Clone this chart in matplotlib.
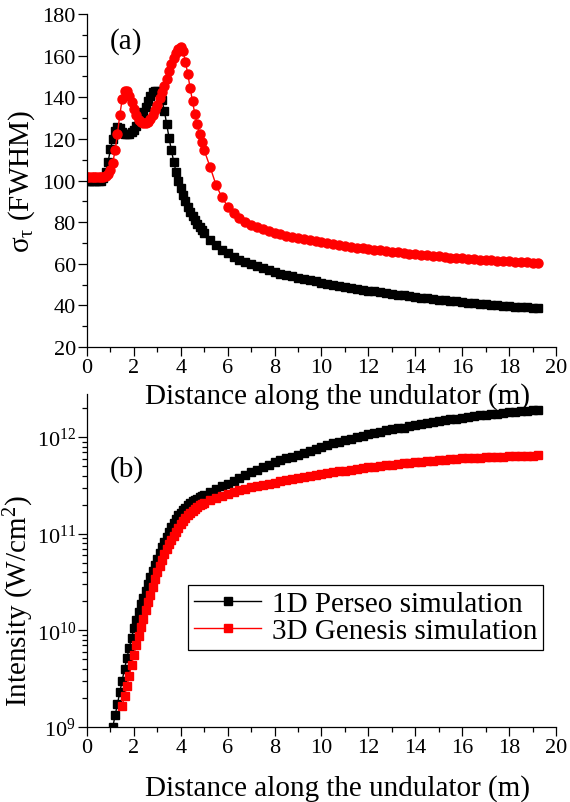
import numpy as np
import matplotlib
matplotlib.use('Agg')
import matplotlib.pyplot as plt
from matplotlib.ticker import MultipleLocator, LogLocator, NullFormatter

plt.rcParams['font.family'] = ['Liberation Serif', 'DejaVu Serif']
plt.rcParams['mathtext.fontset'] = 'custom'
plt.rcParams['mathtext.rm'] = 'Liberation Serif'
plt.rcParams['mathtext.it'] = 'Liberation Serif:italic'

# sampling positions along the undulator (m): 0.1 m steps early, 0.25 m later
z_fine = np.round(np.arange(0.0, 5.01, 0.1), 2)
z_tail = np.round(np.arange(5.25, 19.26, 0.25), 2)

# (a) pulse duration sigma_tau FWHM
sigma_1d_fine = [100, 100, 100, 100, 100, 100, 100, 101, 104, 109,
                 115, 120, 124, 125.5, 125, 123.5, 122.5, 122.3, 122.5, 123.3,
                 124.5, 126, 128, 130.5, 133, 135.5, 138, 140.5, 142.3, 143,
                 143, 142, 138.5, 133.5, 127, 120.5, 114.5, 109, 104, 100,
                 96.5, 93, 90, 87.3, 85, 83, 81, 79.2, 77.5, 76,
                 74.6]
sigma_1d_tail = [71.5, 69, 66.8, 65, 63.4, 62, 60.8, 59.7, 58.7, 57.8,
                 56.9, 56.1, 55.3, 54.6, 53.9, 53.3, 52.7, 52.1, 51.5, 51.0,
                 50.4, 49.9, 49.4, 48.9, 48.4, 47.9, 47.5, 47.1, 46.7, 46.3,
                 45.9, 45.5, 45.1, 44.8, 44.4, 44.1, 43.7, 43.4, 43.1, 42.8,
                 42.5, 42.2, 41.9, 41.6, 41.3, 41.0, 40.8, 40.5, 40.3, 40.0,
                 39.8, 39.6, 39.4, 39.2, 39.0, 38.8, 38.6]

sigma_3d_fine = [101.5, 101.5, 101.5, 101.5, 101.5, 101.5, 101.5, 101.8, 102.3, 103,
                 105, 108.5, 114.5, 122.5, 131.5, 139, 143, 143, 140.5, 137.5,
                 134.5, 131.5, 129.3, 128, 127.4, 127.5, 128.3, 129.5, 131.5, 134,
                 136.5, 139.5, 142.5, 145.5, 149, 152.5, 156, 159, 161.5, 163.3,
                 164, 162, 157, 151, 144.5, 138, 132, 127, 122.5, 118.5,
                 114.5]
sigma_3d_tail = [106.5, 98, 92, 87.5, 84.5, 82, 80.2, 78.8, 77.6, 76.6,
                 75.7, 74.9, 74.2, 73.5, 72.9, 72.3, 71.8, 71.3, 70.8, 70.3,
                 69.8, 69.3, 68.9, 68.5, 68.1, 67.7, 67.4, 67.0, 66.7, 66.4,
                 66.1, 65.8, 65.5, 65.2, 64.9, 64.6, 64.3, 64.0, 63.8, 63.5,
                 63.3, 63.0, 62.8, 62.6, 62.4, 62.2, 62.0, 61.8, 61.7, 61.5,
                 61.3, 61.2, 61.0, 60.9, 60.7, 60.6, 60.4]

# (b) intensity, log10 of W/cm^2
z_1d_rise = np.round(np.arange(1.1, 5.01, 0.1), 2)
logI_1d_rise = [9.00, 9.12, 9.24, 9.36, 9.48, 9.60, 9.71, 9.82, 9.92,
                10.02, 10.11, 10.19, 10.27, 10.34, 10.41, 10.48, 10.55, 10.62, 10.68,
                10.74, 10.80, 10.86, 10.92, 10.97, 11.02, 11.07, 11.11, 11.15, 11.19,
                11.22, 11.25, 11.27, 11.30, 11.32, 11.34, 11.35, 11.36, 11.38, 11.39,
                11.40]
logI_1d_tail = [11.43, 11.46, 11.49, 11.52, 11.55, 11.58, 11.61, 11.64, 11.66, 11.69,
                11.71, 11.74, 11.76, 11.78, 11.80, 11.82, 11.84, 11.86, 11.88, 11.90,
                11.92, 11.94, 11.955, 11.97, 11.985, 12.00, 12.015, 12.03, 12.04, 12.055,
                12.07, 12.08, 12.09, 12.10, 12.115, 12.125, 12.135, 12.145, 12.155, 12.165,
                12.175, 12.185, 12.19, 12.20, 12.21, 12.215, 12.225, 12.23, 12.24, 12.245,
                12.25, 12.26, 12.265, 12.27, 12.275, 12.28, 12.285]

z_3d_rise = np.round(np.arange(1.5, 5.01, 0.1), 2)
logI_3d_rise = [9.22, 9.32, 9.42, 9.53, 9.64,
                9.75, 9.85, 9.94, 10.03, 10.12, 10.21, 10.29, 10.37, 10.45, 10.53,
                10.60, 10.67, 10.73, 10.79, 10.84, 10.89, 10.94, 10.98, 11.02, 11.06,
                11.10, 11.13, 11.16, 11.19, 11.22, 11.24, 11.26, 11.28, 11.30, 11.31,
                11.32]
logI_3d_tail = [11.35, 11.37, 11.39, 11.41, 11.43, 11.45, 11.46, 11.48, 11.49, 11.51,
                11.52, 11.53, 11.545, 11.555, 11.565, 11.575, 11.585, 11.595, 11.605, 11.615,
                11.625, 11.635, 11.645, 11.655, 11.66, 11.67, 11.68, 11.69, 11.695, 11.70,
                11.71, 11.715, 11.72, 11.73, 11.735, 11.74, 11.745, 11.75, 11.755, 11.76,
                11.765, 11.77, 11.775, 11.78, 11.783, 11.786, 11.789, 11.792, 11.795, 11.798,
                11.80, 11.802, 11.804, 11.806, 11.808, 11.81, 11.812]

z_a = np.concatenate([z_fine, z_tail])
z_1d = np.concatenate([z_1d_rise, z_tail])
z_3d = np.concatenate([z_3d_rise, z_tail])
sigma_1d = np.array(sigma_1d_fine + sigma_1d_tail)
sigma_3d = np.array(sigma_3d_fine + sigma_3d_tail)
I_1d = 10.0 ** np.array(logI_1d_rise + logI_1d_tail)
I_3d = 10.0 ** np.array(logI_3d_rise + logI_3d_tail)

fig = plt.figure(figsize=(5.7, 8.03), dpi=100)
ax1 = fig.add_axes([0.1526, 0.5666, 0.8228, 0.4147])
ax2 = fig.add_axes([0.1526, 0.0934, 0.8228, 0.4147])
ax2.patch.set_visible(False)

ax1.plot(z_a, sigma_1d, color='black', lw=1, marker='s', ms=6, mec='black', mfc='black')
ax1.plot(z_a, sigma_3d, color='red', lw=1, marker='o', ms=6.5, mec='red', mfc='red')

ax2.plot(z_1d, I_1d, color='black', lw=1, marker='s', ms=6, mec='black', mfc='black',
         label='1D Perseo simulation')
ax2.plot(z_3d, I_3d, color='red', lw=1, marker='s', ms=6, mec='red', mfc='red',
         label='3D Genesis simulation')
ax2.set_yscale('log')

ax1.set_xlim(0, 20)
ax1.set_ylim(20, 180)
ax1.yaxis.set_major_locator(MultipleLocator(20))
ax1.yaxis.set_minor_locator(MultipleLocator(10))

ax2.set_xlim(0, 20)
ax2.set_ylim(1e9, 2.8e12)
ax2.yaxis.set_major_locator(LogLocator(base=10, numticks=10))
ax2.yaxis.set_minor_locator(LogLocator(base=10, subs=np.arange(2, 10), numticks=10))
ax2.yaxis.set_minor_formatter(NullFormatter())

for ax in (ax1, ax2):
    ax.xaxis.set_major_locator(MultipleLocator(2))
    ax.xaxis.set_minor_locator(MultipleLocator(1))
    ax.spines['top'].set_visible(False)
    ax.spines['right'].set_visible(False)
    for s in ('left', 'bottom'):
        ax.spines[s].set_linewidth(0.9)
    ax.tick_params(which='major', direction='out', length=6.5, width=0.9,
                   labelsize=16, pad=1.5)
    ax.tick_params(which='minor', direction='out', length=3.5, width=0.9)
    ax.set_xlabel('Distance along the undulator (m)', fontsize=21)

ax1.xaxis.set_label_coords(0.534, -0.105)
ax2.xaxis.set_label_coords(0.534, -0.141)

ax1.set_ylabel(r'$\mathregular{σ_τ}$ (FWHM)', fontsize=21)
ax2.set_ylabel(r'Intensity (W/cm$^{\mathregular{2}}$)', fontsize=21)
ax1.yaxis.set_label_coords(-0.106, 0.5)
ax2.yaxis.set_label_coords(-0.108, 0.381)

ax1.text(0.049, 0.919, '(a)', transform=ax1.transAxes, fontsize=21, va='center', ha='left')
ax2.text(0.049, 0.775, '(b)', transform=ax2.transAxes, fontsize=21, va='center', ha='left')

leg = ax2.legend(loc='upper right', bbox_to_anchor=(0.972, 0.426), borderaxespad=0,
                 fontsize=21, fancybox=False, framealpha=1, edgecolor='black',
                 handlelength=2.3, handletextpad=0.35, borderpad=0.2,
                 labelspacing=0.0, markerscale=1.0)
leg.get_frame().set_linewidth(0.9)

fig.savefig('out.png', dpi=100)
